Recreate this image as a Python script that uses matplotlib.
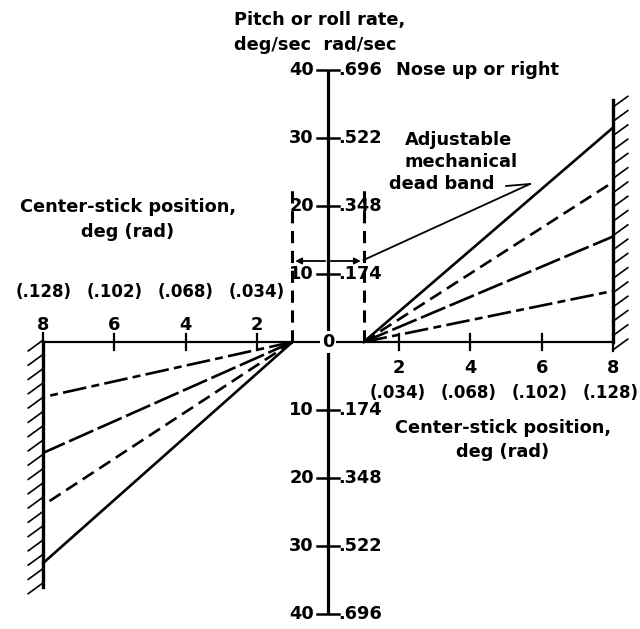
import numpy as np
import matplotlib
matplotlib.use("Agg")
import matplotlib.pyplot as plt

# stick position (deg) and rate (deg/sec) values
dead_band = 1.0
stick_ticks = [2, 4, 6, 8]
stick_rad = ["(.034)", "(.068)", "(.102)", "(.128)"]
rate_ticks = [10, 20, 30, 40]
rate_rad = [".174", ".348", ".522", ".696"]
stick_stop = 8.0
rate_right = [31.5, 23.5, 15.5, 7.5]   # nose up / right, at stick 8 deg
rate_left = [32.5, 24.0, 16.3, 8.1]    # nose down / left, at stick -8 deg
styles = ["-", (0, (5, 2.5)), (0, (10, 1.8)), (0, (9, 2, 3, 2))]

# pixel -> data helpers for the text layout
def px(x):
    return (x - 328) / 35.6

def py(y):
    return (342 - y) / 6.8

plt.rcParams['font.family'] = ['DejaVu Sans']
fig = plt.figure(figsize=(6.4, 6.29), dpi=100)
ax = fig.add_axes([0, 0, 1, 1])
ax.set_xlim(px(0), px(640))
ax.set_ylim(py(629), py(0))
ax.axis('off')

fs = 12.8
tk = dict(fontsize=fs, fontweight='bold', color='black')
tk_rad = dict(tk, fontsize=12.0)

# vertical axis
ax.plot([0, 0], [-40, 40], color='black', lw=2.3, solid_capstyle='butt')
for r in rate_ticks:
    for s in (1, -1):
        ax.plot([px(317), px(339)], [s * r, s * r], color='black', lw=1.8)
for r, lab in zip(rate_ticks, rate_rad):
    for s in (1, -1):
        ax.text(px(314), s * r, str(r), ha='right', va='center', **tk)
        ax.text(px(338), s * r, lab, ha='left', va='center', **tk)
ax.text(px(396), 40, "Nose up or right", ha='left', va='center', **tk)
ax.text(px(234), py(20), "Pitch or roll rate,", ha='left', va='center', **tk)
ax.text(px(234), py(45), "deg/sec  rad/sec", ha='left', va='center', **tk)

# horizontal axis
ax.plot([-stick_stop, stick_stop], [0, 0], color='black', lw=1.6)
ax.text(0, 0, "0", ha='center', va='center',
        bbox=dict(facecolor='white', edgecolor='none', pad=1.5), **tk)
for x in stick_ticks[:-1]:
    ax.plot([x, x], [-1.2, 1.2], color='black', lw=1.6)
    ax.plot([-x, -x], [-1.2, 1.2], color='black', lw=1.6)
ax.plot([-stick_stop, -stick_stop], [0, 1.3], color='black', lw=1.6)
ax.plot([stick_stop, stick_stop], [0, -1.3], color='black', lw=1.6)
for x, lab in zip(stick_ticks, stick_rad):
    ax.text(x, py(368), str(x), ha='center', va='center', **tk)
    ax.text(x - px(330), py(393), lab, ha='center', va='center', **tk_rad)
    ax.text(-x, py(325), str(x), ha='center', va='center', **tk)
    ax.text(-x, py(292), lab, ha='center', va='center', **tk_rad)
ax.text(px(503), py(428), "Center-stick position,", ha='center', va='center', **tk)
ax.text(px(503), py(452), "deg (rad)", ha='center', va='center', **tk)
ax.text(px(128), py(207), "Center-stick position,", ha='center', va='center', **tk)
ax.text(px(128), py(232), "deg (rad)", ha='center', va='center', **tk)

# stops with hatching
ax.plot([stick_stop, stick_stop], [py(100), 0], color='black', lw=2.4)
for yh in np.arange(py(350), py(100), 2.1):
    ax.plot([stick_stop, stick_stop + 0.42], [yh, yh + 1.6], color='black', lw=1.2)
ax.plot([-stick_stop, -stick_stop], [0, py(587)], color='black', lw=2.4)
for yh in np.arange(py(340), py(590), -2.1):
    ax.plot([-stick_stop, -stick_stop - 0.42], [yh, yh - 1.6], color='black', lw=1.2)

# response lines
for r, ls in zip(rate_right, styles):
    ax.plot([dead_band, stick_stop], [0, r], color='black', lw=1.9, linestyle=ls)
for r, ls in zip(rate_left, styles):
    ax.plot([-dead_band, -stick_stop], [0, -r], color='black', lw=1.9, linestyle=ls)

# dead band markers
for s in (1, -1):
    ax.plot([s * dead_band, s * dead_band], [0, py(188)], color='black', lw=2.2,
            linestyle=(0, (4, 2.5)))
ax.annotate("", xy=(-dead_band, py(261)), xytext=(0, py(261)),
            arrowprops=dict(arrowstyle='-|>', color='black', lw=1.3, mutation_scale=9))
ax.annotate("", xy=(dead_band, py(261)), xytext=(0, py(261)),
            arrowprops=dict(arrowstyle='-|>', color='black', lw=1.3, mutation_scale=9))
ax.plot([dead_band, px(530)], [py(260), py(184)], color='black', lw=1.3)
ax.plot([px(506), px(530)], [py(186), py(184)], color='black', lw=1.3)
ax.text(px(459), py(140), "Adjustable", ha='center', va='center', **tk)
ax.text(px(461), py(162), "mechanical", ha='center', va='center', **tk)
ax.text(px(442), py(184), "dead band", ha='center', va='center', **tk)

fig.savefig("out.png", dpi=100)
